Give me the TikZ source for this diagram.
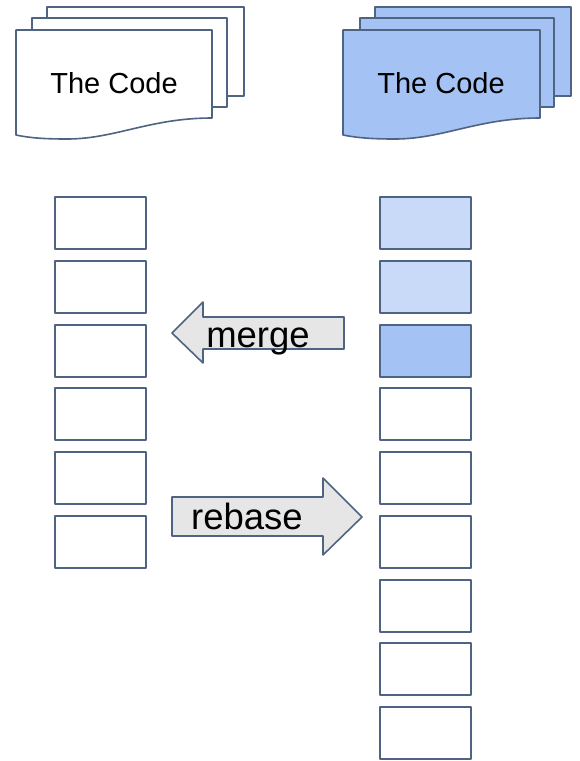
\documentclass[tikz,border=0pt]{standalone}
\usepackage{fontspec}
\setmainfont{Liberation Sans}
\definecolor{edge}{HTML}{4F6382}
\definecolor{blue1}{HTML}{A4C2F4}
\definecolor{blue2}{HTML}{C9DAF8}
\definecolor{gray1}{HTML}{E6E6E6}
\tikzset{
  outl/.style={draw=edge,line width=1.6pt,line join=round},
  cell/.style={outl,fill=white,minimum width=91pt,minimum height=52pt,inner sep=0pt,outer sep=0pt,anchor=north west},
  cellmid/.style={cell,fill=blue2},
  celldark/.style={cell,fill=blue1},
  doctext/.style={font=\fontsize{29}{29}\selectfont,anchor=base,inner sep=0pt,text=black},
  arrowtext/.style={font=\fontsize{36.5}{36.5}\selectfont,anchor=base,inner sep=0pt,text=black}
}
\begin{document}
\begin{tikzpicture}[x=1pt,y=-1pt]
\useasboundingbox (0,0) rectangle (580,761);
% left document stack
\draw[outl,fill=white] (47,7) rectangle (244,96);
\draw[outl,fill=white] (32,18) rectangle (227,107);
\draw[outl,fill=white] (16,30) -- (212,30) -- (212,118)
  .. controls (150,118) and (115,139) .. (67,139)
  .. controls (45,139) and (30,138) .. (16,135) -- cycle;
\node[doctext] (codeL) at (114,93) {The Code};
% right document stack
\draw[outl,fill=blue1] (375,7) rectangle (571,96);
\draw[outl,fill=blue1] (360,18) rectangle (554,107);
\draw[outl,fill=blue1] (343,30) -- (540,30) -- (540,118)
  .. controls (478,118) and (443,139) .. (395,139)
  .. controls (373,139) and (358,138) .. (343,135) -- cycle;
\node[doctext] (codeR) at (441,93) {The Code};
% left column
\node[cell] (l1) at (55,197) {};
\node[cell] (l2) at (55,261) {};
\node[cell] (l3) at (55,325) {};
\node[cell] (l4) at (55,388) {};
\node[cell] (l5) at (55,452) {};
\node[cell] (l6) at (55,516) {};
% right column
\node[cellmid] (r1) at (380,197) {};
\node[cellmid] (r2) at (380,261) {};
\node[celldark] (r3) at (380,325) {};
\node[cell] (r4) at (380,388) {};
\node[cell] (r5) at (380,452) {};
\node[cell] (r6) at (380,516) {};
\node[cell] (r7) at (380,580) {};
\node[cell] (r8) at (380,643) {};
\node[cell] (r9) at (380,707) {};
% merge arrow
\draw[outl,fill=gray1] (172,333) -- (203,302) -- (203,317) -- (344,317) -- (344,349) -- (203,349) -- (203,363) -- cycle;
\node[arrowtext] (merge) at (258,347) {merge};
% rebase arrow
\draw[outl,fill=gray1] (172,497) -- (323,497) -- (323,478) -- (362,517) -- (323,555) -- (323,536) -- (172,536) -- cycle;
\node[arrowtext] (rebase) at (247,529) {rebase};
\end{tikzpicture}
\end{document}
